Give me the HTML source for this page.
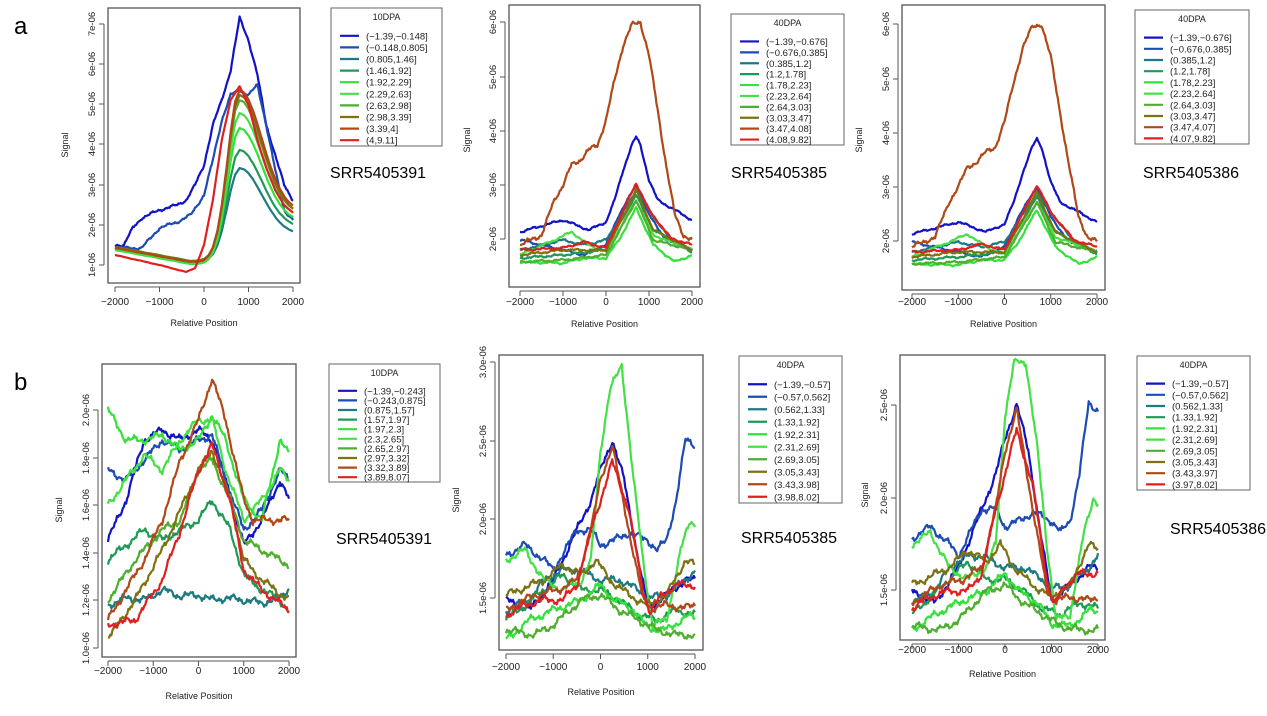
<!DOCTYPE html>
<html><head><meta charset="utf-8"><style>
html,body{margin:0;padding:0;background:#fff;}
svg{display:block;font-family:"Liberation Sans",Arial,sans-serif;}
</style></head><body>
<svg id="s" width="1267" height="716" viewBox="0 0 1267 716" xmlns="http://www.w3.org/2000/svg">
<rect width="1267" height="716" fill="#fff"/>
<text x="14" y="34" font-size="24">a</text>
<text x="14" y="390" font-size="24">b</text>
<text x="330" y="178" font-size="16">SRR5405391</text>
<text x="731" y="178" font-size="16">SRR5405385</text>
<text x="1143" y="178" font-size="16">SRR5405386</text>
<text x="336" y="544" font-size="16">SRR5405391</text>
<text x="741" y="543" font-size="16">SRR5405385</text>
<text x="1170" y="534" font-size="16">SRR5405386</text>
</svg>
<script>
const C=["#1212c8","#1c4cb4","#1c7a80","#1f9a55","#33e13a","#45e045","#4fae2f","#7d7212","#b04818","#e02020"];
const NS="http://www.w3.org/2000/svg",S=document.getElementById('s');
function el(t,a,txt){const e=document.createElementNS(NS,t);for(const k in a)e.setAttribute(k,a[k]);if(txt!==undefined)e.textContent=txt;S.appendChild(e);return e;}
function parse(s){return s.split(',').map(p=>p.split(':').map(Number));}
function interp(k,x){for(let i=0;i<k.length-1;i++){if(x<=k[i+1][0]){const t=(x-k[i][0])/(k[i+1][0]-k[i][0]);return k[i][1]+(k[i+1][1]-k[i][1])*t;}}return k[k.length-1][1];}
function noise(x,s){return Math.sin(x*0.013+s)*0.6+Math.sin(x*0.041+s*2.3)*0.4+Math.sin(x*0.11+s*5.1)*0.3;}
function gen(peak,end,left,px){
 const pts=[];for(let x=-2000;x<=2000;x+=100){let y;
  const bl=left+(x+2000)/1700*14;
  if(x<=px){const b=x<-300?bl:left+14;const s=Math.exp(-Math.pow((x-px)/380,2));y=b+(peak-b)*s;}
  else{const s=Math.exp(-Math.pow((x-px)/700,2));y=end+(peak-end)*s;}
  pts.push(x+":"+y.toFixed(1));}
 return pts.join(',');}
function panel(p){
 const [x0,y0,x1,y1]=p.box;
 const mx=x=>p.xm[0]+(x+2000)/4000*(p.xm[1]-p.xm[0]);
 p.curves.forEach((c,i)=>{const k=parse(c[1]);const pts=[];
  for(let x=-2000;x<=2000;x+=25){let y=interp(k,x)+noise(x,i*1.7+p.seed)*(c[2]!==undefined?c[2]:p.nz);
   y=Math.max(y,y0+4);pts.push(mx(x).toFixed(1)+","+y.toFixed(1));}
  el('polyline',{points:pts.join(' '),fill:'none',stroke:C[c[0]],'stroke-width':2.2,'stroke-linejoin':'round'});});
 el('rect',{x:x0,y:y0,width:x1-x0,height:y1-y0,fill:'none',stroke:'#555','stroke-width':1.3});
 const ay=y1+4;
 el('line',{x1:p.xm[0],y1:ay,x2:p.xm[1],y2:ay,stroke:'#555'});
 [-2000,-1000,0,1000,2000].forEach(v=>{const x=mx(v);el('line',{x1:x,y1:ay,x2:x,y2:ay+5,stroke:'#555'});
  el('text',{x:x,y:p.xl,'font-size':10,'text-anchor':'middle',fill:'#222'},v<0?'\u2212'+(-v):String(v));});
 el('text',{x:(x0+x1)/2,y:p.xt,'font-size':9,'text-anchor':'middle',fill:'#222'},'Relative Position');
 const ax=x0-4;const ys=p.yt.map(t=>t[0]);
 el('line',{x1:ax,y1:Math.min(...ys),x2:ax,y2:Math.max(...ys),stroke:'#555'});
 p.yt.forEach(t=>{el('line',{x1:ax,y1:t[0],x2:ax-5,y2:t[0],stroke:'#555'});
  el('text',{x:ax-9,y:t[0],'font-size':9.5,'text-anchor':'middle',fill:'#222',transform:`rotate(-90 ${ax-9} ${t[0]})`},t[1]);});
 el('text',{x:p.yl[0],y:p.yl[1],'font-size':9,'text-anchor':'middle',fill:'#222',transform:`rotate(-90 ${p.yl[0]} ${p.yl[1]})`},'Signal');
 const [lx0,ly0,lx1,ly1]=p.leg;
 el('rect',{x:lx0,y:ly0,width:lx1-lx0,height:ly1-ly0,fill:'#fff',stroke:'#666','stroke-width':1});
 el('text',{x:(lx0+lx1)/2,y:ly0+12,'font-size':9,'text-anchor':'middle',fill:'#222'},p.lt);
 const st=(ly1-ly0-22)/10;
 p.labels.forEach((l,i)=>{const y=ly0+22+st*(i+0.5);
  el('line',{x1:lx0+9,y1:y,x2:lx0+28,y2:y,stroke:C[i],'stroke-width':2.2});
  el('text',{x:lx0+35,y:y+3.5,'font-size':9.5,fill:'#222'},l);});
}
const red1="-2000:255,-1000:265,-400:272,-200:268,0:245,200:200,400:140,600:100,800:86,1000:105,1200:140,1400:168,1600:190,1800:205,2000:213";
const a1=[
 [0,"-2000:245,-1800:245,-1600:228,-1400:218,-1000:210,-600:205,-400:200,-200:185,0:165,200:125,400:100,600:70,800:18,1000:40,1200:75,1400:125,1600:155,1800:185,2000:200",1.5],
 [1,"-2000:248,-1400:248,-1200:238,-1000:228,-600:222,-300:215,0:195,200:160,400:120,600:95,800:90,1000:95,1200:85,1400:125,1600:170,1800:210,2000:220",1.5],
 [2,gen(168,235,248,800),0.2],[3,gen(150,228,248,800),0.2],[4,gen(128,222,250,800),0.2],[5,gen(113,218,249,800),0.2],
 [6,gen(100,215,247,800),0.2],[7,gen(95,215,247,800),0.2],[8,gen(90,212,248,800),0.2],[9,red1,0.2]];
const a2=[
 [0,"-2000:232,-1000:220,-400:230,0:222,200:200,400:170,600:145,700:137,800:145,1000:180,1200:200,1600:210,2000:220"],
 [1,"-2000:240,-1500:245,-1000:250,-500:255,0:245,300:215,700:185,1000:215,1400:240,2000:250"],
 [2,"-2000:250,-1000:240,-500:245,0:240,300:220,700:190,1000:210,1500:240,2000:250"],
 [3,"-2000:258,-1000:255,0:250,300:225,700:195,1100:230,2000:252"],
 [4,"-2000:262,-1000:263,-500:258,0:258,300:240,700:208,1100:245,1600:262,2000:255"],
 [5,"-2000:255,-1200:240,-800:232,-400:245,0:252,300:230,700:200,1100:235,2000:250"],
 [6,"-2000:262,-1000:260,0:255,300:232,700:200,1100:240,2000:250"],
 [7,"-2000:255,-1000:250,0:250,300:225,700:190,1100:230,2000:250"],
 [8,"-2000:245,-1500:235,-1200:200,-1000:185,-800:165,-600:160,-400:150,-200:145,0:120,200:80,400:45,600:25,800:22,1000:55,1200:110,1400:165,1600:215,1800:235,2000:240",2.5],
 [9,"-2000:250,-1000:248,-500:242,0:248,300:220,700:183,1000:210,1500:238,2000:245"]];
const a3=a2.map(c=>[c[0],parse(c[1]).map(p=>p[0]+":"+(p[1]+2)).join(','),c[2]]);
const b1=[
 [0,"-2000:540,-1600:500,-1200:440,-800:430,-400:440,0:430,300:440,600:480,1000:545,1400:520,1800:480,2000:500"],
 [1,"-2000:470,-1600:480,-1200:460,-800:440,-400:450,0:440,300:435,600:480,1000:530,1400:510,1800:470,2000:480"],
 [2,"-2000:605,-1600:598,-1200:600,-800:590,-400:596,0:595,300:600,600:598,1000:600,1400:603,1800:598,2000:588"],
 [3,"-2000:560,-1200:530,-800:540,0:520,300:500,700:530,1000:575,1400:590,1800:600,2000:612"],
 [4,"-2000:410,-1600:440,-1200:440,-800:435,-400:450,0:440,300:415,600:440,1000:500,1400:520,1800:440,2000:455"],
 [5,"-2000:505,-1600:480,-1200:455,-800:470,-400:440,0:420,300:420,600:470,1000:520,1400:500,1800:470,2000:480"],
 [6,"-2000:600,-1400:560,-800:530,-400:520,0:470,300:460,700:500,1000:540,1400:550,1800:560,2000:565"],
 [7,"-2000:638,-1400:600,-800:550,-400:510,0:470,300:450,700:500,1000:560,1400:580,2000:600"],
 [8,"-2000:620,-1200:560,-800:520,-400:460,0:420,300:378,600:420,1000:500,1200:520,1600:520,2000:520"],
 [9,"-2000:625,-1400:620,-800:580,-400:530,0:470,300:445,700:500,1000:570,1400:590,2000:610"]];
const b2=[
 [0,"-2000:600,-1500:610,-1000:580,-500:530,-200:500,0:470,250:440,500:480,800:560,1000:608,1400:595,1800:580,2000:580"],
 [1,"-2000:555,-1600:545,-1200:560,-1000:570,-500:530,-200:530,0:545,300:540,600:533,1000:540,1200:550,1400:540,1600:500,1800:440,2000:445"],
 [2,"-2000:610,-1500:600,-1200:580,-800:570,-500:570,0:580,400:580,800:590,1000:598,1400:595,1800:580,2000:570"],
 [3,"-2000:620,-1200:590,-800:575,-400:590,0:590,400:600,800:615,1200:620,1600:610,2000:615"],
 [4,"-2000:640,-1500:620,-1000:610,-400:600,0:585,300:600,700:610,1000:628,1400:630,1800:617,2000:617"],
 [5,"-2000:560,-1600:550,-1200:580,-800:590,-400:580,-200:560,0:450,200:390,450:365,700:480,900:560,1100:625,1400:620,1700:550,1900:520,2000:525"],
 [6,"-2000:630,-1400:635,-1000:625,-400:600,0:595,400:610,800:620,1200:630,1600:635,2000:635"],
 [7,"-2000:595,-1200:580,-800:565,-400:575,-100:560,200:580,600:595,1000:605,1400:595,1800:560,2000:565"],
 [8,"-2000:610,-1400:595,-900:590,-500:580,-200:530,0:480,250:445,600:530,900:600,1100:608,1400:605,1800:608,2000:605"],
 [9,"-2000:615,-1600:605,-1200:600,-800:600,-500:585,-200:530,0:500,250:462,600:510,900:590,1050:612,1300:595,1600:585,2000:585"]];
const b3=b2.map(c=>[c[0],parse(c[1]).map(p=>p[0]+":"+Math.min(630,Math.max(362,405+(p[1]-441)*1.17)).toFixed(1)).join(','),c[2]]);
const L10a=["(\u22121.39,\u22120.148]","(\u22120.148,0.805]","(0.805,1.46]","(1.46,1.92]","(1.92,2.29]","(2.29,2.63]","(2.63,2.98]","(2.98,3.39]","(3.39,4]","(4,9.11]"];
const L40a=["(\u22121.39,\u22120.676]","(\u22120.676,0.385]","(0.385,1.2]","(1.2,1.78]","(1.78,2.23]","(2.23,2.64]","(2.64,3.03]","(3.03,3.47]","(3.47,4.08]","(4.08,9.82]"];
const L40a3=L40a.slice(0,8).concat(["(3.47,4.07]","(4.07,9.82]"]);
const L10b=["(\u22121.39,\u22120.243]","(\u22120.243,0.875]","(0.875,1.57]","(1.57,1.97]","(1.97,2.3]","(2.3,2.65]","(2.65,2.97]","(2.97,3.32]","(3.32,3.89]","(3.89,8.07]"];
const L40b=["(\u22121.39,\u22120.57]","(\u22120.57,0.562]","(0.562,1.33]","(1.33,1.92]","(1.92,2.31]","(2.31,2.69]","(2.69,3.05]","(3.05,3.43]","(3.43,3.98]","(3.98,8.02]"];
const L40b3=L40b.slice(0,8).concat(["(3.43,3.97]","(3.97,8.02]"]);
panel({box:[108,8,300,283],xm:[115,293],xl:305,xt:326,yl:[68,145],seed:1,nz:0.6,
 yt:[[265,"1e-06"],[225,"2e-06"],[185,"3e-06"],[144,"4e-06"],[104,"5e-06"],[64,"6e-06"],[24,"7e-06"]],
 curves:a1,leg:[331,8,442,146],lt:"10DPA",labels:L10a});
panel({box:[509,5,700,287],xm:[520,692],xl:305,xt:327,yl:[470,140],seed:2,nz:1.2,
 yt:[[239,"2e-06"],[185,"3e-06"],[131,"4e-06"],[77,"5e-06"],[22,"6e-06"]],
 curves:a2,leg:[731,14,844,145],lt:"40DPA",labels:L40a});
panel({box:[902,5,1105,290],xm:[912,1097],xl:305,xt:327,yl:[862,140],seed:3,nz:1.2,
 yt:[[241,"2e-06"],[187,"3e-06"],[133,"4e-06"],[79,"5e-06"],[24,"6e-06"]],
 curves:a3,leg:[1135,10,1249,144],lt:"40DPA",labels:L40a3});
panel({box:[102,364,296,657],xm:[108,289],xl:674,xt:699,yl:[62,510],seed:4,nz:4,
 yt:[[648,"1.0e-06"],[600,"1.2e-06"],[553,"1.4e-06"],[505,"1.6e-06"],[458,"1.8e-06"],[410,"2.0e-06"]],
 curves:b1,leg:[329,364,440,482],lt:"10DPA",labels:L10b});
panel({box:[499,355,703,650],xm:[506,695],xl:670,xt:695,yl:[459,500],seed:5,nz:4,
 yt:[[598,"1.5e-06"],[519,"2.0e-06"],[441,"2.5e-06"],[362,"3.0e-06"]],
 curves:b2,leg:[739,356,842,503],lt:"40DPA",labels:L40b});
panel({box:[900,355,1105,640],xm:[912,1098],xl:653,xt:677,yl:[868,495],seed:6,nz:4,
 yt:[[590,"1.5e-06"],[498,"2.0e-06"],[405,"2.5e-06"]],
 curves:b3,leg:[1137,356,1250,490],lt:"40DPA",labels:L40b3});
</script>
</body></html>
